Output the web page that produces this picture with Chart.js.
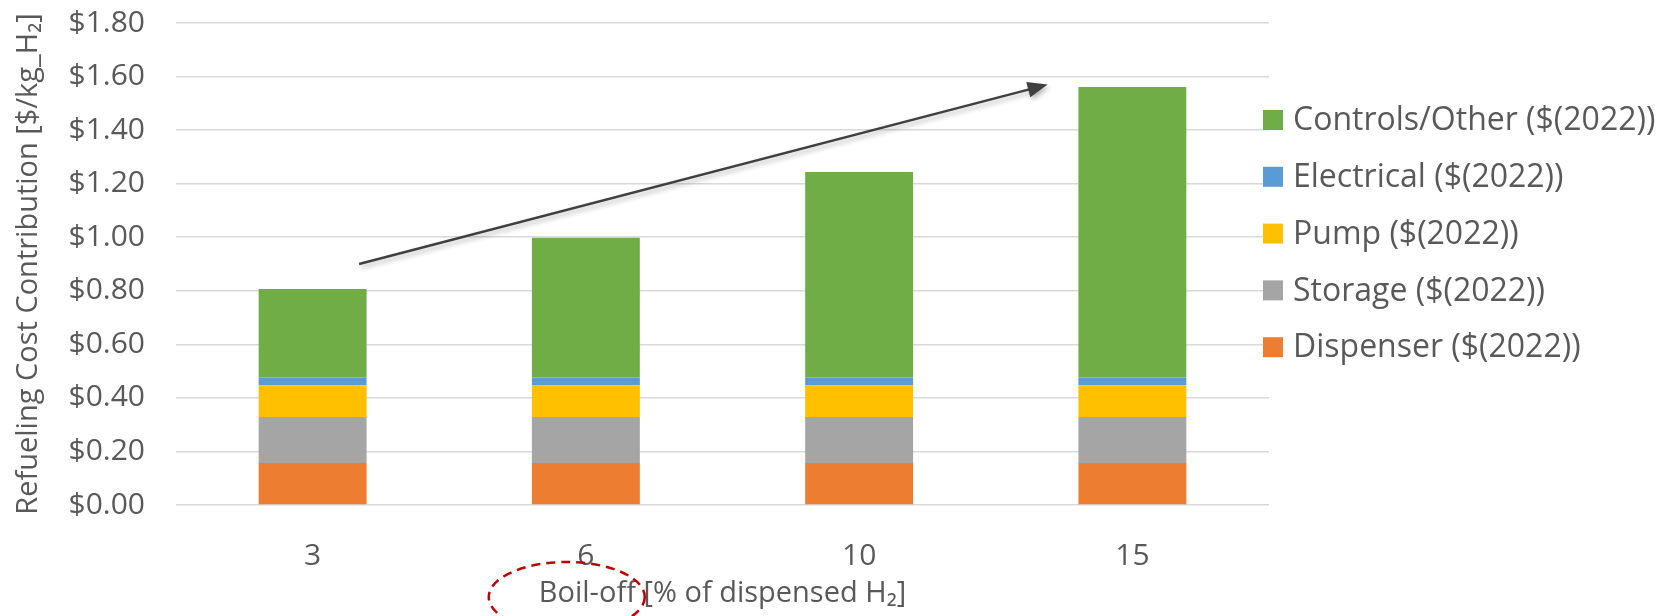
<!DOCTYPE html>
<html>
<head>
<meta charset="utf-8">
<script src="https://cdn.jsdelivr.net/npm/chart.js@4/dist/chart.umd.min.js"></script>
<style>
  html, body { margin: 0; padding: 0; background: #ffffff; }
  #wrap { width: 1667px; height: 616px; position: relative; }
</style>
</head>
<body>
<div id="wrap"><canvas id="chart" width="1667" height="616"></canvas></div>
<script>
// Boil-off share (x categories) and cost components, $/kg H2 (2022 dollars)
const categories = ['3', '6', '10', '15'];
const dispenser = [0.157, 0.157, 0.157, 0.157];
const storage = [0.172, 0.172, 0.172, 0.172];
const pump = [0.118, 0.118, 0.118, 0.118];
const electrical = [0.029, 0.029, 0.029, 0.029];
const controlsOther = [0.331, 0.522, 0.768, 1.085];
const seriesNames = ['Dispenser ($(2022))', 'Storage ($(2022))', 'Pump ($(2022))', 'Electrical ($(2022))', 'Controls/Other ($(2022))'];
const seriesColors = ['#ED7D31', '#A5A5A5', '#FFC000', '#5B9BD5', '#70AD47'];
const yTickValues = [0, 0.2, 0.4, 0.6, 0.8, 1.0, 1.2, 1.4, 1.6, 1.8];
const xTitle = 'Boil-off [% of dispensed H\u2082]';
const yTitle = 'Refueling Cost Contribution [$/kg_H\u2082]';
// trend arrow endpoints in (category index, $/kg) space
const trendStart = [0.17, 0.90];
const trendEnd = [2.69, 1.57];

const FONT = "'Open Sans', 'Liberation Sans', sans-serif";
const TEXT = '#595959';

const seriesValues = [dispenser, storage, pump, electrical, controlsOther];

// legend on the right, top series listed first
const sideLegend = {
  id: 'sideLegend',
  afterDraw(chart) {
    const ctx = chart.ctx;
    const area = chart.chartArea;
    const x0 = area.right - 6;
    const rowTop = area.top + 97;
    const rowStep = 56.8;
    ctx.save();
    ctx.font = '32px ' + FONT;
    ctx.textBaseline = 'middle';
    ctx.textAlign = 'left';
    const ds = chart.data.datasets;
    for (let i = ds.length - 1, r = 0; i >= 0; i--, r++) {
      const cy = rowTop + r * rowStep;
      ctx.fillStyle = ds[i].backgroundColor;
      ctx.fillRect(x0, cy - 10, 20, 20);
      ctx.fillStyle = TEXT;
      ctx.fillText(ds[i].label, x0 + 30, cy + 1);
    }
    ctx.restore();
  }
};

// rising-trend arrow and the dashed highlight around the axis title
const marks = {
  id: 'marks',
  afterDraw(chart) {
    const ctx = chart.ctx;
    const xs = chart.scales.x, ys = chart.scales.y;
    const x1 = xs.getPixelForValue(trendStart[0]), y1 = ys.getPixelForValue(trendStart[1]);
    const x2 = xs.getPixelForValue(trendEnd[0]), y2 = ys.getPixelForValue(trendEnd[1]);
    const ang = Math.atan2(y2 - y1, x2 - x1);
    const head = 20, half = 8;
    ctx.save();
    ctx.shadowColor = 'rgba(0,0,0,0.28)';
    ctx.shadowBlur = 5;
    ctx.shadowOffsetX = 2;
    ctx.shadowOffsetY = 3;
    ctx.strokeStyle = '#404040';
    ctx.fillStyle = '#404040';
    ctx.lineWidth = 2.5;
    const bx = x2 - head * Math.cos(ang), by = y2 - head * Math.sin(ang);
    ctx.beginPath();
    ctx.moveTo(x1, y1);
    ctx.lineTo(bx + 2 * Math.cos(ang), by + 2 * Math.sin(ang));
    ctx.stroke();
    ctx.beginPath();
    ctx.moveTo(x2, y2);
    ctx.lineTo(bx - half * Math.sin(ang), by + half * Math.cos(ang));
    ctx.lineTo(bx + half * Math.sin(ang), by - half * Math.cos(ang));
    ctx.closePath();
    ctx.fill();
    ctx.restore();

    ctx.save();
    ctx.strokeStyle = '#C00000';
    ctx.lineWidth = 2.5;
    ctx.setLineDash([9, 6]);
    const cx = xs.getPixelForValue(0.93);
    ctx.beginPath();
    ctx.ellipse(cx, chart.chartArea.bottom + 92, 78, 35, 0, 0, Math.PI * 2);
    ctx.stroke();
    ctx.restore();
  }
};

new Chart(document.getElementById('chart'), {
  type: 'bar',
  data: {
    labels: categories,
    datasets: seriesValues.map((vals, i) => ({
      label: seriesNames[i],
      data: vals,
      backgroundColor: seriesColors[i],
      borderWidth: 0,
      categoryPercentage: 1,
      barPercentage: 0.395
    }))
  },
  options: {
    responsive: false,
    animation: false,
    devicePixelRatio: 1,
    layout: { padding: { left: 0, right: 398, top: 23, bottom: 0 } },
    plugins: { legend: { display: false }, tooltip: { enabled: false } },
    scales: {
      x: {
        stacked: true,
        grid: { display: false, drawTicks: false },
        border: { display: false },
        ticks: { color: TEXT, font: { family: FONT, size: 30 }, padding: 33 },
        title: { display: true, text: xTitle, color: TEXT, font: { family: FONT, size: 29 }, padding: { top: 0, bottom: 5 } },
        afterFit(scale) { scale.height = 111; }
      },
      y: {
        stacked: true,
        min: 0,
        max: 1.8,
        afterBuildTicks(scale) { scale.ticks = yTickValues.map(v => ({ value: v })); },
        grid: { color: '#D9D9D9', lineWidth: 1.5, drawTicks: false },
        border: { display: false },
        ticks: {
          color: TEXT,
          font: { family: FONT, size: 30 },
          padding: 31,
          callback: v => '$' + Number(v).toFixed(2)
        },
        title: { display: true, text: yTitle, color: TEXT, font: { family: FONT, size: 29 }, padding: { top: 11, bottom: 0 } },
        afterFit(scale) {
          scale.width = 176;
          scale.paddingTop = 0;
          scale.paddingBottom = 0;
        }
      }
    }
  },
  plugins: [sideLegend, marks]
});
</script>
</body>
</html>
